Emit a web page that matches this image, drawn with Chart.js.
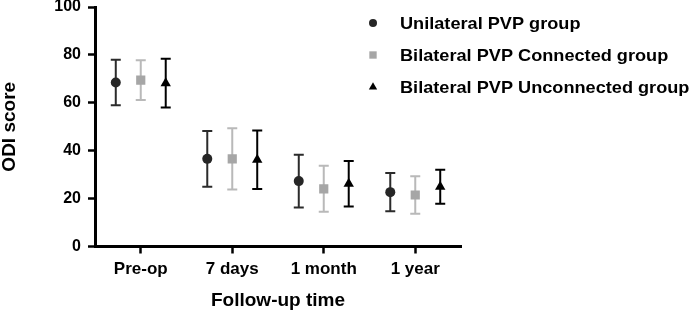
<!DOCTYPE html>
<html>
<head>
<meta charset="utf-8">
<script src="https://cdn.jsdelivr.net/npm/chart.js@4.4.1/dist/chart.umd.min.js"></script>
<style>
  html, body { margin: 0; padding: 0; background: #fff; }
</style>
</head>
<body>
<canvas id="odiChart" width="690" height="310"></canvas>
<script>
// x axis categories and group names
const timepoints = ['Pre-op', '7 days', '1 month', '1 year'];
const groupNames = ['Unilateral PVP group', 'Bilateral PVP Connected group', 'Bilateral PVP Unconnected group'];

// mean ODI score per timepoint
const unilateralMean = [68.5, 36.6, 27.3, 22.7];
const connectedMean = [69.5, 36.6, 24.1, 21.5];
const unconnectedMean = [68.2, 36.2, 26.2, 24.9];

// error bar half-lengths (SD)
const unilateralSd = [9.5, 11.6, 11.0, 8.0];
const connectedSd = [8.3, 12.8, 9.6, 7.8];
const unconnectedSd = [10.2, 12.2, 9.5, 7.1];

const yTicks = [0, 20, 40, 60, 80, 100];

const FONT = '"Liberation Sans", Arial, Helvetica, sans-serif';

// points of each group sit a little left / right of the category
function toPoints(means, shift) {
    return means.map((v, i) => ({ x: i + shift, y: v }));
}

// draws the whiskers under the markers
const errorBars = {
    id: 'errorBars',
    beforeDatasetsDraw(chart) {
        const ctx = chart.ctx;
        const yScale = chart.scales.y;
        chart.data.datasets.forEach((ds, di) => {
            const meta = chart.getDatasetMeta(di);
            ctx.save();
            ctx.strokeStyle = ds.whiskerColor;
            ctx.lineWidth = 2;
            meta.data.forEach((pt, i) => {
                const top = yScale.getPixelForValue(ds.data[i].y + ds.sd[i]);
                const bot = yScale.getPixelForValue(ds.data[i].y - ds.sd[i]);
                ctx.beginPath();
                ctx.moveTo(pt.x, top); ctx.lineTo(pt.x, bot);
                ctx.moveTo(pt.x - 5, top); ctx.lineTo(pt.x + 5, top);
                ctx.moveTo(pt.x - 5, bot); ctx.lineTo(pt.x + 5, bot);
                ctx.stroke();
            });
            ctx.restore();
        });
    }
};

// legend on the right, text slightly widened like the original
const sideLegend = {
    id: 'sideLegend',
    afterDraw(chart) {
        const ctx = chart.ctx;
        chart.data.datasets.forEach((ds, i) => {
            const y = 23 + i * 32;
            ctx.save();
            ctx.fillStyle = ds.backgroundColor;
            Chart.helpers.drawPoint(ctx, { pointStyle: ds.pointStyle, radius: ds.legendRadius, rotation: 0, borderWidth: 0 }, 373, y);
            ctx.restore();

            ctx.save();
            ctx.fillStyle = '#000';
            ctx.font = 'bold 16.5px ' + FONT;
            ctx.textBaseline = 'middle';
            ctx.translate(400, y + 1);
            ctx.scale(1.1, 1);
            ctx.fillText(ds.label, 0, 0);
            ctx.restore();
        });
    }
};

const ctx = document.getElementById('odiChart').getContext('2d');
const odiChart = new Chart(ctx, {
    type: 'scatter',
    data: {
        datasets: [
            {
                label: groupNames[0],
                data: toPoints(unilateralMean, -0.273),
                sd: unilateralSd,
                backgroundColor: '#262626',
                whiskerColor: '#2b2b2b',
                pointStyle: 'circle',
                pointRadius: 5,
                legendRadius: 4,
                pointBorderWidth: 0
            },
            {
                label: groupNames[1],
                data: toPoints(connectedMean, 0),
                sd: connectedSd,
                backgroundColor: '#a6a6a6',
                whiskerColor: '#b9b9b9',
                pointStyle: 'rect',
                pointRadius: 6.5,
                legendRadius: 5.2,
                pointBorderWidth: 0
            },
            {
                label: groupNames[2],
                data: toPoints(unconnectedMean, 0.273),
                sd: unconnectedSd,
                backgroundColor: '#000000',
                whiskerColor: '#000000',
                pointStyle: 'triangle',
                pointRadius: 6,
                legendRadius: 4.8,
                pointBorderWidth: 0
            }
        ]
    },
    options: {
        responsive: false,
        animation: false,
        devicePixelRatio: 1,
        events: [],
        layout: { padding: { left: 0, top: 7, right: 229, bottom: 0 } },
        plugins: {
            legend: { display: false },
            tooltip: { enabled: false }
        },
        scales: {
            x: {
                type: 'linear',
                min: -0.5,
                max: 3.5,
                afterBuildTicks: s => { s.ticks = timepoints.map((_, i) => ({ value: i })); },
                afterFit: s => { s.height = 63.5; s.paddingLeft = 0; s.paddingRight = 0; },
                ticks: {
                    callback: v => timepoints[v],
                    color: '#000',
                    font: { family: FONT, size: 17, weight: 'bold' },
                    padding: 6,
                    maxRotation: 0
                },
                grid: { drawOnChartArea: false, tickLength: 7, tickWidth: 2.5, tickColor: '#000' },
                border: { color: '#000', width: 3 },
                title: {
                    display: true,
                    text: 'Follow-up time',
                    color: '#000',
                    font: { family: FONT, size: 19, weight: 'bold', lineHeight: 1 },
                    padding: { top: 0, bottom: 0 }
                }
            },
            y: {
                min: 0,
                max: 100,
                afterBuildTicks: s => { s.ticks = yTicks.map(v => ({ value: v })); },
                afterFit: s => { s.width = 95; s.paddingTop = 0; s.paddingBottom = 0; },
                ticks: {
                    color: '#000',
                    font: { family: FONT, size: 16, weight: 'bold' },
                    padding: 7
                },
                grid: { drawOnChartArea: false, tickLength: 7, tickWidth: 2.5, tickColor: '#000' },
                border: { color: '#000', width: 3 },
                title: {
                    display: true,
                    text: 'ODI score',
                    color: '#000',
                    font: { family: FONT, size: 19, weight: 'bold', lineHeight: 1 },
                    padding: { top: 0, bottom: 0 }
                }
            }
        }
    },
    plugins: [errorBars, sideLegend]
});
</script>
</body>
</html>
